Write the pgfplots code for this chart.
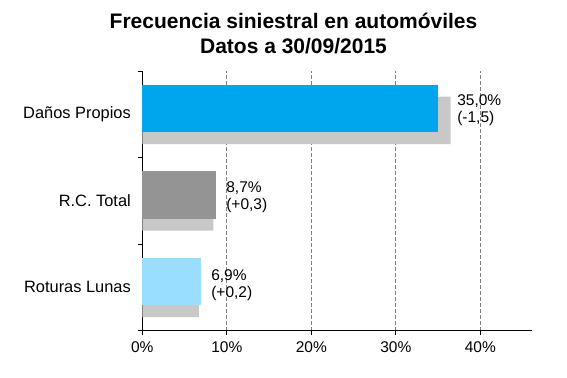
\documentclass[border=0pt]{standalone}
\usepackage{pgfplots}
\pgfplotsset{compat=1.18}
\usepackage{fontspec}
\setmainfont{Liberation Sans}
\definecolor{cA}{RGB}{0,166,237}
\definecolor{cB}{RGB}{148,148,148}
\definecolor{cC}{RGB}{153,221,255}
\definecolor{sh}{RGB}{200,200,200}
\begin{document}
\begin{tikzpicture}
\path[use as bounding box] (0,0) rectangle (567bp,378bp);
\node[anchor=base, inner sep=0pt, font=\fontsize{21bp}{24bp}\selectfont\bfseries] at (293.5bp,349.7bp) {Frecuencia siniestral en automóviles};
\node[anchor=base, inner sep=0pt, font=\fontsize{21bp}{24bp}\selectfont\bfseries] at (293.5bp,324.7bp) {Datos a 30/09/2015};
\begin{axis}[
  at={(142.3bp,47.3bp)}, anchor=south west,
  scale only axis, width=389.4bp, height=259.7bp,
  xmin=0, xmax=46.08, ymin=-0.5, ymax=2.5,
  axis x line*=bottom, axis y line*=left,
  axis line style={black, line width=1bp},
  clip=false,
  xtick={0,10,20,30,40}, xticklabels={0\%,10\%,20\%,30\%,40\%},
  ytick={-0.5,0.5,1.5,2.5}, yticklabels={{},{},{},{}},
  extra y ticks={0,1,2},
  extra y tick labels={Roturas Lunas,R.C. Total,Daños Propios},
  extra y tick style={major tick length=0pt, yticklabel style={anchor=east, xshift=-8bp, font=\fontsize{16.4bp}{18bp}\selectfont}},
  tick align=outside,
  major tick length=4.5bp,
  tick style={black, line width=0.8bp},
  xmajorgrids,
  major x grid style={gray, dash pattern=on 4bp off 2bp, line width=0.8bp},
  every tick label/.append style={font=\fontsize{15.5bp}{17bp}\selectfont},
  xticklabel style={yshift=-2.5bp},
]
\addplot[xbar, bar width=47.5bp, bar shift=-6bp, fill=sh, draw=none] coordinates {(36.5,2) (8.4,1) (6.7,0)};
\addplot[xbar, bar width=47.5bp, bar shift=6bp, fill=cA, draw=none] coordinates {(35.0,2)};
\addplot[xbar, bar width=47.5bp, bar shift=6bp, fill=cB, draw=none] coordinates {(8.7,1)};
\addplot[xbar, bar width=47.5bp, bar shift=6bp, fill=cC, draw=none] coordinates {(6.9,0)};
\node[anchor=west, align=left, inner sep=0pt, font=\fontsize{15.5bp}{17bp}\selectfont] at (axis cs:37.25,2) [yshift=4.3bp] {35,0\%\\(-1,5)};
\node[anchor=west, align=left, inner sep=0pt, font=\fontsize{15.5bp}{17bp}\selectfont] at (axis cs:9.92,1) [yshift=3.6bp] {8,7\%\\(+0,3)};
\node[anchor=west, align=left, inner sep=0pt, font=\fontsize{15.5bp}{17bp}\selectfont] at (axis cs:8.14,0) [yshift=2.5bp] {6,9\%\\(+0,2)};
\end{axis}
\end{tikzpicture}
\end{document}
